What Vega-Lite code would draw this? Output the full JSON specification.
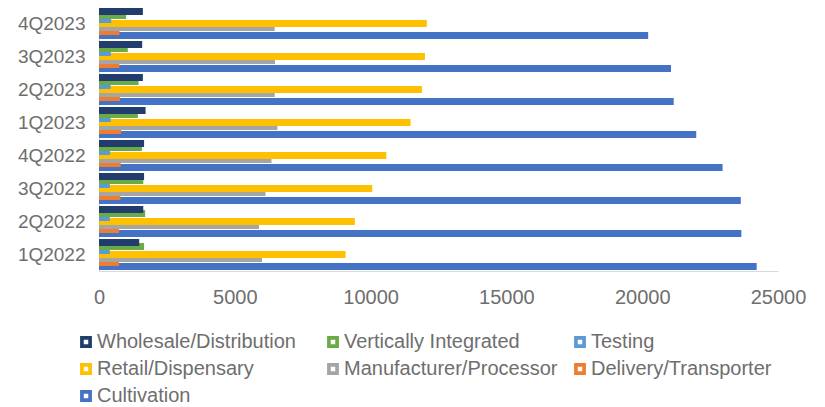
{
  "$schema": "https://vega.github.io/schema/vega-lite/v6.json",
  "width": 679,
  "height": 264,
  "autosize": {"type": "none"},
  "padding": {"left": 99, "top": 7, "right": 47, "bottom": 136},
  "background": "white",
  "config": {
    "view": {"stroke": null},
    "font": "Liberation Sans"
  },
  "data": {
    "values": [
      {"quarter": "4Q2023", "series": "Cultivation", "value": 20220},
      {"quarter": "3Q2023", "series": "Cultivation", "value": 21060},
      {"quarter": "2Q2023", "series": "Cultivation", "value": 21160},
      {"quarter": "1Q2023", "series": "Cultivation", "value": 21990},
      {"quarter": "4Q2022", "series": "Cultivation", "value": 22960},
      {"quarter": "3Q2022", "series": "Cultivation", "value": 23630},
      {"quarter": "2Q2022", "series": "Cultivation", "value": 23650},
      {"quarter": "1Q2022", "series": "Cultivation", "value": 24215},
      {"quarter": "4Q2023", "series": "Delivery/Transporter", "value": 755},
      {"quarter": "3Q2023", "series": "Delivery/Transporter", "value": 750},
      {"quarter": "2Q2023", "series": "Delivery/Transporter", "value": 770},
      {"quarter": "1Q2023", "series": "Delivery/Transporter", "value": 815},
      {"quarter": "4Q2022", "series": "Delivery/Transporter", "value": 800},
      {"quarter": "3Q2022", "series": "Delivery/Transporter", "value": 790},
      {"quarter": "2Q2022", "series": "Delivery/Transporter", "value": 740},
      {"quarter": "1Q2022", "series": "Delivery/Transporter", "value": 740},
      {"quarter": "4Q2023", "series": "Manufacturer/Processor", "value": 6470},
      {"quarter": "3Q2023", "series": "Manufacturer/Processor", "value": 6480},
      {"quarter": "2Q2023", "series": "Manufacturer/Processor", "value": 6470},
      {"quarter": "1Q2023", "series": "Manufacturer/Processor", "value": 6570},
      {"quarter": "4Q2022", "series": "Manufacturer/Processor", "value": 6350},
      {"quarter": "3Q2022", "series": "Manufacturer/Processor", "value": 6130},
      {"quarter": "2Q2022", "series": "Manufacturer/Processor", "value": 5890},
      {"quarter": "1Q2022", "series": "Manufacturer/Processor", "value": 6000},
      {"quarter": "4Q2023", "series": "Retail/Dispensary", "value": 12070},
      {"quarter": "3Q2023", "series": "Retail/Dispensary", "value": 12000},
      {"quarter": "2Q2023", "series": "Retail/Dispensary", "value": 11890},
      {"quarter": "1Q2023", "series": "Retail/Dispensary", "value": 11470},
      {"quarter": "4Q2022", "series": "Retail/Dispensary", "value": 10580},
      {"quarter": "3Q2022", "series": "Retail/Dispensary", "value": 10060},
      {"quarter": "2Q2022", "series": "Retail/Dispensary", "value": 9420},
      {"quarter": "1Q2022", "series": "Retail/Dispensary", "value": 9080},
      {"quarter": "4Q2023", "series": "Testing", "value": 450},
      {"quarter": "3Q2023", "series": "Testing", "value": 440},
      {"quarter": "2Q2023", "series": "Testing", "value": 430},
      {"quarter": "1Q2023", "series": "Testing", "value": 430},
      {"quarter": "4Q2022", "series": "Testing", "value": 410},
      {"quarter": "3Q2022", "series": "Testing", "value": 400},
      {"quarter": "2Q2022", "series": "Testing", "value": 400},
      {"quarter": "1Q2022", "series": "Testing", "value": 400},
      {"quarter": "4Q2023", "series": "Vertically Integrated", "value": 1000},
      {"quarter": "3Q2023", "series": "Vertically Integrated", "value": 1060},
      {"quarter": "2Q2023", "series": "Vertically Integrated", "value": 1455},
      {"quarter": "1Q2023", "series": "Vertically Integrated", "value": 1430},
      {"quarter": "4Q2022", "series": "Vertically Integrated", "value": 1580},
      {"quarter": "3Q2022", "series": "Vertically Integrated", "value": 1630},
      {"quarter": "2Q2022", "series": "Vertically Integrated", "value": 1700},
      {"quarter": "1Q2022", "series": "Vertically Integrated", "value": 1660},
      {"quarter": "4Q2023", "series": "Wholesale/Distribution", "value": 1615},
      {"quarter": "3Q2023", "series": "Wholesale/Distribution", "value": 1590},
      {"quarter": "2Q2023", "series": "Wholesale/Distribution", "value": 1615},
      {"quarter": "1Q2023", "series": "Wholesale/Distribution", "value": 1715},
      {"quarter": "4Q2022", "series": "Wholesale/Distribution", "value": 1660},
      {"quarter": "3Q2022", "series": "Wholesale/Distribution", "value": 1660},
      {"quarter": "2Q2022", "series": "Wholesale/Distribution", "value": 1630},
      {"quarter": "1Q2022", "series": "Wholesale/Distribution", "value": 1480}
    ]
  },
  "mark": {"type": "bar", "height": 7},
  "encoding": {
    "y": {
      "field": "quarter",
      "type": "nominal",
      "sort": ["4Q2023", "3Q2023", "2Q2023", "1Q2023", "4Q2022", "3Q2022", "2Q2022", "1Q2022"],
      "scale": {"paddingInner": 0.15, "paddingOuter": 0.075},
      "axis": {
        "title": null,
        "ticks": false,
        "domainColor": "#d9d9d9",
        "domainWidth": 1,
        "labelFontSize": 19,
        "labelColor": "#6e6e6e",
        "labelPadding": 14,
        "labelFont": "Liberation Sans"
      }
    },
    "yOffset": {
      "field": "series",
      "type": "nominal",
      "sort": ["Wholesale/Distribution", "Vertically Integrated", "Testing", "Retail/Dispensary", "Manufacturer/Processor", "Delivery/Transporter", "Cultivation"],
      "scale": {"paddingInner": 0, "paddingOuter": 0}
    },
    "x": {
      "field": "value",
      "type": "quantitative",
      "scale": {"domain": [0, 25000], "nice": false},
      "axis": {
        "title": null,
        "grid": false,
        "ticks": false,
        "values": [0, 5000, 10000, 15000, 20000, 25000],
        "format": "d",
        "domainColor": "#d9d9d9",
        "domainWidth": 1,
        "labelFontSize": 20,
        "labelColor": "#6e6e6e",
        "labelPadding": 16,
        "labelFont": "Liberation Sans",
        "labelFlush": false
      }
    },
    "color": {
      "field": "series",
      "type": "nominal",
      "scale": {
        "domain": ["Wholesale/Distribution", "Vertically Integrated", "Testing", "Retail/Dispensary", "Manufacturer/Processor", "Delivery/Transporter", "Cultivation"],
        "range": ["#203d6e", "#6aab47", "#5b9bd5", "#ffc000", "#a5a5a5", "#ed7d31", "#4472c4"]
      },
      "legend": {
        "title": null,
        "orient": "none",
        "legendX": -23,
        "legendY": 325,
        "direction": "horizontal",
        "columns": 3,
        "gridAlign": "all",
        "columnPadding": 12,
        "rowPadding": 7,
        "symbolType": "M-1,-1H1V1H-1Z M-0.38,-0.38V0.38H0.38V-0.38Z",
        "symbolSize": 140,
        "symbolStrokeWidth": 0,
        "symbolOpacity": 1,
        "labelOffset": 1,
        "labelFontSize": 20,
        "labelFont": "Liberation Sans",
        "labelColor": "#6e6e6e",
        "labelLimit": 400
      }
    }
  }
}
